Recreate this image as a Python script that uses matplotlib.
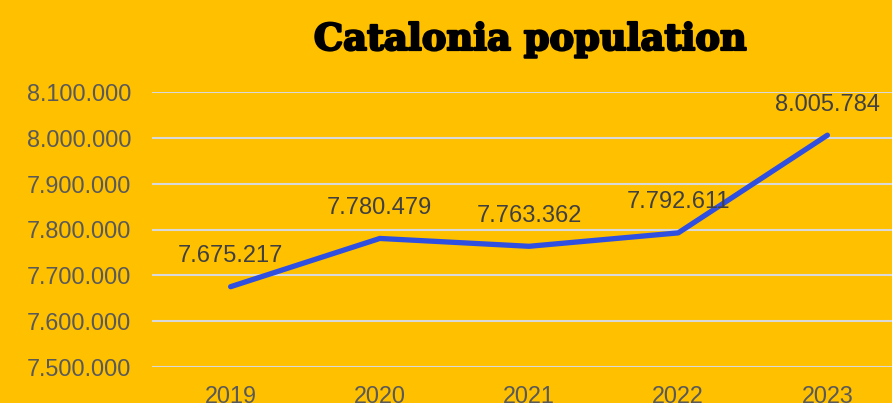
import matplotlib.pyplot as plt
import matplotlib.patheffects as pe
from matplotlib.ticker import FuncFormatter

years = ["2019", "2020", "2021", "2022", "2023"]
population = [7675217, 7780479, 7763362, 7792611, 8005784]

BG = "#FFC000"
LINE = "#2F4FE0"
GRID = "#D9D9D9"


def dotted(v, _pos=None):
    return f"{int(round(v)):,}".replace(",", ".")


fig = plt.figure(figsize=(8.92, 4.03), dpi=100, facecolor=BG)
ax = fig.add_axes([152 / 892, 36 / 403, 750 / 892, 275 / 403], facecolor=BG)

x = list(range(len(years)))
ax.plot(x, population, color=LINE, linewidth=3.8, solid_capstyle="round", zorder=3)

for xi, v in zip(x, population):
    ax.annotate(dotted(v), (xi, v), xytext=(0, 22), textcoords="offset points",
                ha="center", va="center", fontsize=17, color="#404040",
                family="Liberation Sans", zorder=4)

ax.set_xlim(-0.527, 4.5)
ax.set_ylim(7500000, 8100000)
ax.set_yticks([7500000 + 100000 * i for i in range(7)])
ax.yaxis.set_major_formatter(FuncFormatter(dotted))
ax.set_xticks(x)
ax.set_xticklabels(years)

ax.grid(axis="y", color=GRID, linewidth=1.5)
ax.set_axisbelow(True)
for s in ax.spines.values():
    s.set_visible(False)
ax.tick_params(axis="both", length=0, labelsize=16.8, labelcolor="#595959")
ax.tick_params(axis="y", pad=15)
ax.tick_params(axis="x", pad=13)
for lab in ax.get_xticklabels() + ax.get_yticklabels():
    lab.set_family("Liberation Sans")

# heavy slab-serif look for the title
fig.text(530 / 892, 1 - 40 / 403, "Catalonia population", ha="center", va="center",
         fontsize=26.5, fontweight="bold", family="DejaVu Serif", color="black",
         path_effects=[pe.withStroke(linewidth=1.6, foreground="black")])

fig.savefig("out.png", dpi=100, facecolor=BG)
